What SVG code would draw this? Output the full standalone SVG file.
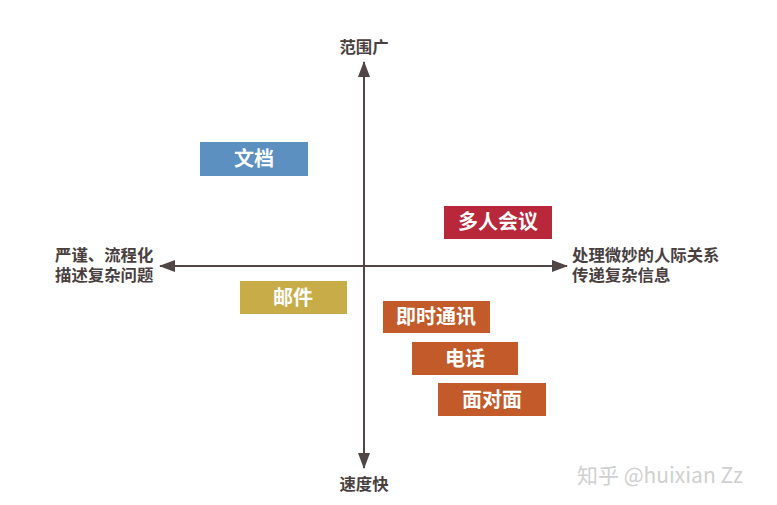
<svg xmlns="http://www.w3.org/2000/svg" width="777" height="505" viewBox="0 0 777 505">
<style>
.ax{stroke:#524545;stroke-width:2;fill:none}
.lbl{font-family:"Noto Sans CJK SC","Noto Sans",sans-serif;font-size:16.4px;fill:#4a3f3f;font-weight:700}
.bt{font-family:"Noto Sans CJK SC","Noto Sans",sans-serif;font-size:20px;fill:#ffffff;font-weight:700;text-anchor:middle}
.wm{font-family:"Noto Sans CJK SC","Liberation Sans",sans-serif;font-size:21px;fill:#d0d0d0}
</style>
<defs>
<marker id="ah" viewBox="0 0 16 12" refX="15" refY="6" markerWidth="16" markerHeight="12" markerUnits="userSpaceOnUse" orient="auto">
<path d="M0,0 L16,6 L0,12 Z" fill="#524545"/>
</marker>
</defs>
<rect width="777" height="505" fill="#ffffff"/>
<g id="connectors">
<line class="ax" x1="364" y1="266" x2="364" y2="62" marker-end="url(#ah)"/>
<line class="ax" x1="364" y1="266" x2="364" y2="468" marker-end="url(#ah)"/>
<line class="ax" x1="364" y1="266" x2="160" y2="266" marker-end="url(#ah)"/>
<line class="ax" x1="364" y1="266" x2="567" y2="266" marker-end="url(#ah)"/>
</g>
<g id="axis-labels">
<text class="lbl" x="364" y="53" text-anchor="middle">范围广</text>
<text class="lbl" x="364" y="490" text-anchor="middle">速度快</text>
<text class="lbl"><tspan x="55" y="261">严谨、流程化</tspan><tspan x="55" y="281">描述复杂问题</tspan></text>
<text class="lbl"><tspan x="572" y="261">处理微妙的人际关系</tspan><tspan x="572" y="281">传递复杂信息</tspan></text>
</g>
<g id="n-doc"><rect x="200" y="142" width="108" height="34" fill="#5b90c0"/><text class="bt" x="254" y="166">文档</text></g>
<g id="n-meeting"><rect x="444" y="206" width="108" height="33" fill="#b8283a"/><text class="bt" x="498" y="229">多人会议</text></g>
<g id="n-mail"><rect x="240" y="281" width="107" height="33" fill="#c8ac47"/><text class="bt" x="293" y="305">邮件</text></g>
<g id="n-im"><rect x="383" y="301" width="107" height="32" fill="#c25a2a"/><text class="bt" x="436" y="324">即时通讯</text></g>
<g id="n-phone"><rect x="412" y="342" width="106" height="33" fill="#c25a2a"/><text class="bt" x="465" y="366">电话</text></g>
<g id="n-f2f"><rect x="438" y="383" width="108" height="33" fill="#c25a2a"/><text class="bt" x="492" y="407">面对面</text></g>
<text class="wm" x="577" y="483">知乎 @huixian Zz</text>
</svg>
